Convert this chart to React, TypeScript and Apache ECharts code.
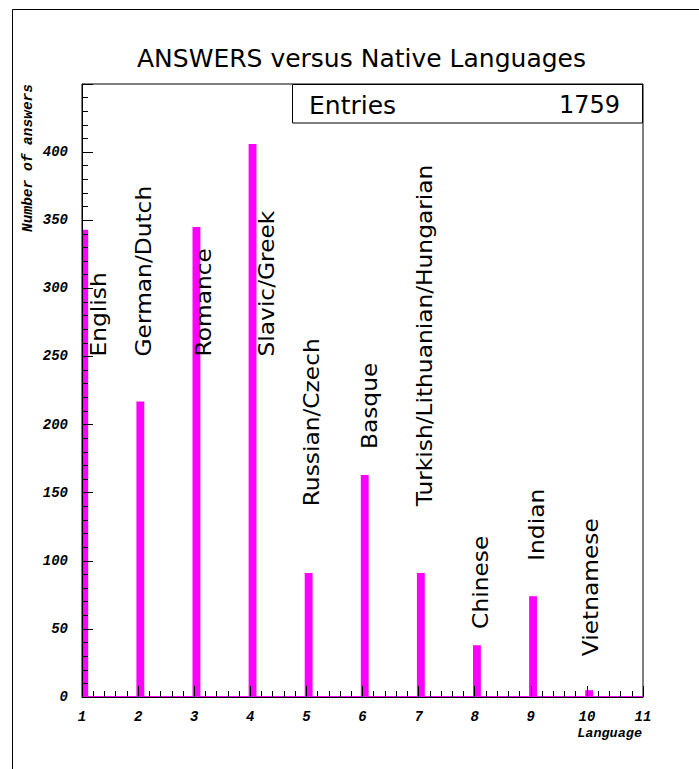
import React, { useEffect, useRef } from "react";
import * as echarts from "echarts";

// ---- data ----
const LANGUAGE_NAMES = [
  "English",
  "German/Dutch",
  "Romance",
  "Slavic/Greek",
  "Russian/Czech",
  "Basque",
  "Turkish/Lithuanian/Hungarian",
  "Chinese",
  "Indian",
  "Vietnamese",
];
const LANGUAGE_CODES = [1, 2, 3, 4, 5, 6, 7, 8, 9, 10];
const ANSWER_COUNTS = [343, 217, 345, 406, 91, 163, 91, 38, 74, 5];
// positions (in data units) of the rotated language annotations
const LABEL_X = [1.43, 2.23, 3.3, 4.42, 5.23, 6.26, 7.24, 8.24, 9.24, 10.2];
const LABEL_Y = [250, 250, 250, 250, 140, 182, 140, 50, 100, 30];
const ENTRIES = 1759;
const TITLE = "ANSWERS versus Native Languages";
const X_TITLE = "Language";
const Y_TITLE = "Number of answers";
const X_MIN = 1;
const X_MAX = 11;
const Y_MIN = 0;
const Y_MAX = 450;

// ---- styles ----
const MAGENTA = "#ff00ff";
const AXIS_FONT = '"Liberation Mono", "DejaVu Sans Mono", monospace';
const TEXT_FONT = '"DejaVu Sans", "Liberation Sans", sans-serif';
const LABEL_FS = 22;
const LABEL_STRETCH = 1.06;
const BAR_LEFT = -0.03;
const BAR_RIGHT = 0.11;

export default function App() {
  const ref = useRef<HTMLDivElement>(null);

  useEffect(() => {
    if (!ref.current) return;
    const chart = echarts.init(ref.current, null, { renderer: "svg" });

    const barData = LANGUAGE_CODES.map((c, i) => [c, ANSWER_COUNTS[i]]);
    const labelData = LANGUAGE_NAMES.map((n, i) => [LABEL_X[i], LABEL_Y[i], i]);

    const axisLabelStyle = {
      fontFamily: AXIS_FONT,
      fontStyle: "italic" as const,
      fontWeight: "bold" as const,
      fontSize: 14,
      color: "#000",
    };

    const option: any = {
      animation: false,
      backgroundColor: "#fff",
      grid: {
        left: 82,
        top: 84,
        right: 56,
        bottom: 72,
        show: true,
        borderColor: "#000",
        borderWidth: 1,
        backgroundColor: "transparent",
        containLabel: false,
      },
      xAxis: {
        type: "value",
        min: X_MIN,
        max: X_MAX,
        interval: 1,
        z: 10,
        axisLine: { show: true, lineStyle: { color: "#000", width: 1 } },
        axisTick: { show: true, inside: true, length: 11, lineStyle: { color: "#000", width: 1 } },
        minorTick: { show: true, splitNumber: 5, length: 6, lineStyle: { color: "#000", width: 1 } },
        splitLine: { show: false },
        minorSplitLine: { show: false },
        axisLabel: { ...axisLabelStyle, margin: 13, showMinLabel: true, showMaxLabel: true },
      },
      yAxis: {
        type: "value",
        min: Y_MIN,
        max: Y_MAX,
        interval: 50,
        z: 10,
        axisLine: { show: true, lineStyle: { color: "#000", width: 1 } },
        axisTick: { show: true, inside: true, length: 11, lineStyle: { color: "#000", width: 1 } },
        minorTick: { show: true, splitNumber: 5, length: 6, lineStyle: { color: "#000", width: 1 } },
        splitLine: { show: false },
        minorSplitLine: { show: false },
        axisLabel: {
          ...axisLabelStyle,
          margin: 14,
          formatter: (v: number) => (v >= Y_MAX ? "" : String(v)),
        },
      },
      series: [
        {
          type: "line",
          data: [
            [X_MIN, 0],
            [X_MAX, 0],
          ],
          symbol: "none",
          lineStyle: { color: MAGENTA, width: 2 },
          z: 1,
          silent: true,
        },
        {
          type: "custom",
          data: barData,
          z: 2,
          renderItem: (params: any, api: any) => {
            const x = api.value(0);
            const v = api.value(1);
            const a = api.coord([x + BAR_LEFT, v]);
            const b = api.coord([x + BAR_RIGHT, 0]);
            const cs = params.coordSys;
            const shape = echarts.graphic.clipRectByRect(
              { x: a[0], y: a[1], width: b[0] - a[0], height: b[1] - a[1] },
              { x: cs.x, y: cs.y, width: cs.width, height: cs.height }
            );
            if (!shape) return null;
            return { type: "rect", shape, style: { fill: MAGENTA } };
          },
        },
        {
          type: "custom",
          data: labelData,
          z: 5,
          renderItem: (params: any, api: any) => {
            const p = api.coord([api.value(0), api.value(1)]);
            const name = LANGUAGE_NAMES[api.value(2)];
            return {
              type: "text",
              x: p[0] - LABEL_FS * 0.35,
              y: p[1],
              rotation: Math.PI / 2,
              scaleX: LABEL_STRETCH,
              style: {
                text: name,
                fill: "#000",
                fontFamily: TEXT_FONT,
                fontSize: LABEL_FS,
                fontWeight: "normal",
                align: "left",
                verticalAlign: "middle",
                textAlign: "left",
                textVerticalAlign: "middle",
              },
            };
          },
        },
      ],
      graphic: [
        {
          type: "rect",
          shape: { x: 12.5, y: 9.5, width: 760, height: 820 },
          style: { fill: "none", stroke: "#000", lineWidth: 1 },
          silent: true,
          z: 0,
        },
        {
          type: "text",
          x: 361.5,
          y: 58,
          style: {
            text: TITLE,
            fill: "#000",
            fontFamily: TEXT_FONT,
            fontSize: 25,
            align: "center",
            verticalAlign: "middle",
            textAlign: "center",
            textVerticalAlign: "middle",
          },
          z: 100,
        },
        {
          type: "rect",
          shape: { x: 292.5, y: 84.5, width: 350, height: 38.5 },
          style: { fill: "#fff", stroke: "#000", lineWidth: 1 },
          z: 100,
        },
        {
          type: "text",
          x: 309,
          y: 105,
          style: {
            text: "Entries",
            fill: "#000",
            fontFamily: TEXT_FONT,
            fontSize: 25,
            align: "left",
            verticalAlign: "middle",
            textAlign: "left",
            textVerticalAlign: "middle",
          },
          z: 101,
        },
        {
          type: "text",
          x: 620,
          y: 105,
          style: {
            text: String(ENTRIES),
            fill: "#000",
            fontFamily: TEXT_FONT,
            fontSize: 24,
            align: "right",
            verticalAlign: "middle",
            textAlign: "right",
            textVerticalAlign: "middle",
          },
          z: 101,
        },
        {
          type: "text",
          x: 642,
          y: 733,
          style: {
            text: X_TITLE,
            fill: "#000",
            fontFamily: AXIS_FONT,
            fontStyle: "italic",
            fontWeight: "bold",
            fontSize: 13.5,
            align: "right",
            verticalAlign: "middle",
            textAlign: "right",
            textVerticalAlign: "middle",
          },
          z: 100,
        },
        {
          type: "text",
          x: 28,
          y: 84,
          rotation: Math.PI / 2,
          style: {
            text: Y_TITLE,
            fill: "#000",
            fontFamily: AXIS_FONT,
            fontStyle: "italic",
            fontWeight: "bold",
            fontSize: 14.5,
            align: "right",
            verticalAlign: "middle",
            textAlign: "right",
            textVerticalAlign: "middle",
          },
          z: 100,
        },
      ],
    };

    chart.setOption(option);
    return () => chart.dispose();
  }, []);

  return (
    <div
      ref={ref}
      style={{ position: "absolute", left: 0, top: 0, width: 699, height: 769, background: "#fff" }}
    />
  );
}
